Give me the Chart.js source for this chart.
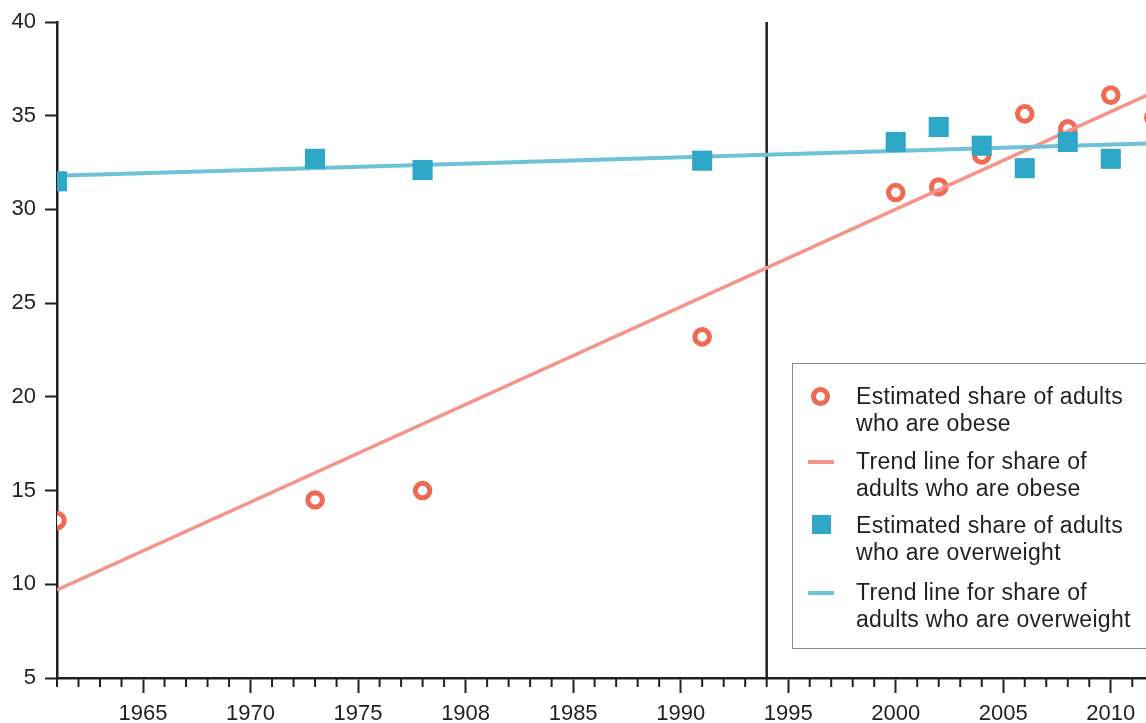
<!DOCTYPE html>
<html>
<head>
<meta charset="utf-8">
<script src="https://cdn.jsdelivr.net/npm/chart.js@4/dist/chart.umd.min.js"></script>
<style>
  html, body { margin: 0; padding: 0; background: #fff; overflow: hidden; }
  #wrap { position: relative; width: 1146px; height: 723px; overflow: hidden; }
  #c { position: absolute; left: 0; top: 0; }
  #legend { position: absolute; left: 792px; top: 363px; width: 400px; height: 286px;
    border: 1px solid #8a8a8a; box-sizing: border-box; font-family: "Liberation Sans", Arial, sans-serif;
    font-size: 23px; color: #231f20; letter-spacing: 0.3px; }
  .row { position: absolute; left: 63px; line-height: 27px; white-space: nowrap; }
  .mk { position: absolute; }
</style>
</head>
<body>
<div id="wrap">
  <canvas id="c" width="1211" height="723"></canvas>
  <div id="legend"></div>
</div>
<script>
// ---- data ----
const obeseYears = [1961, 1973, 1978, 1991, 2000, 2002, 2004, 2006, 2008, 2010, 2012];
const obeseShare = [13.4, 14.5, 15.0, 23.2, 30.9, 31.2, 32.9, 35.1, 34.3, 36.1, 34.9];
const overweightYears = [1961, 1973, 1978, 1991, 2000, 2002, 2004, 2006, 2008, 2010];
const overweightShare = [31.5, 32.7, 32.1, 32.6, 33.6, 34.4, 33.4, 32.2, 33.6, 32.7];
const trendYears = [1961, 2014];
const obeseTrend = [9.7, 37.3];
const overweightTrend = [31.8, 33.6];
const dividerYear = 1994;
const yRange = [5, 40];
const xTickYears = [1965, 1970, 1975, 1980, 1985, 1990, 1995, 2000, 2005, 2010];
const xTickLabels = ["1965", "1970", "1975", "1908", "1985", "1990", "1995", "2000", "2005", "2010"];
const legendLabels = [
  ["Estimated share of adults", "who are obese"],
  ["Trend line for share of", "adults who are obese"],
  ["Estimated share of adults", "who are overweight"],
  ["Trend line for share of", "adults who are overweight"]
];

const INK = '#231f20';
const C_OBESE = '#ef6a50';
const C_OBESE_T = '#f5958a';
const C_OVER = '#2fa8c8';
const C_OVER_T = '#6ec2d7';
const FONT = "'Liberation Sans', Arial, sans-serif";

const pts = (xs, ys) => xs.map((x, i) => ({ x, y: ys[i] }));
const leftClip = { left: 0, top: false, right: false, bottom: false };

const minorTicks = {
  id: 'minorTicks',
  afterDraw(chart) {
    const xs = chart.scales.x, ctx = chart.ctx;
    const y0 = chart.chartArea.bottom;
    ctx.save();
    ctx.strokeStyle = INK;
    ctx.lineWidth = 2;
    for (let v = Math.ceil(xs.min); v <= xs.max; v++) {
      if (xTickYears.includes(v)) continue;
      const px = xs.getPixelForValue(v);
      ctx.beginPath();
      ctx.moveTo(px, y0);
      ctx.lineTo(px, y0 + 9);
      ctx.stroke();
    }
    ctx.restore();
  }
};

new Chart(document.getElementById('c'), {
  type: 'scatter',
  data: {
    datasets: [
      { label: 'overweight', data: pts(overweightYears, overweightShare), pointStyle: 'rect',
        pointRadius: 14.2, pointHoverRadius: 14.2, backgroundColor: C_OVER, borderColor: C_OVER, borderWidth: 0, clip: leftClip },
      { label: 'overweight trend', data: pts(trendYears, overweightTrend), showLine: true, pointRadius: 0,
        borderColor: C_OVER_T, borderWidth: 4 },
      { label: 'obese trend', data: pts(trendYears, obeseTrend), showLine: true, pointRadius: 0,
        borderColor: C_OBESE_T, borderWidth: 3.5 },
      { label: 'obese', data: pts(obeseYears, obeseShare), pointStyle: 'circle',
        pointRadius: 7.3, pointHoverRadius: 7.3, backgroundColor: '#fff', borderColor: C_OBESE, borderWidth: 5, clip: leftClip },
      { label: 'divider', data: pts([dividerYear, dividerYear], yRange), showLine: true, pointRadius: 0,
        borderColor: INK, borderWidth: 2.5 }
    ]
  },
  options: {
    responsive: false,
    animation: false,
    events: [],
    layout: { padding: { top: 22, right: 0, bottom: 0, left: 0 } },
    plugins: { legend: { display: false }, tooltip: { enabled: false } },
    scales: {
      x: {
        type: 'linear', min: 1961, max: 2014,
        afterFit(s) { s.height = 45; },
        border: { display: true, color: INK, width: 2.5 },
        grid: { display: true, drawOnChartArea: false, drawTicks: true, tickLength: 15, tickWidth: 2,
          tickColor: c => xTickYears.includes(c.tick && c.tick.value) ? INK : 'rgba(0,0,0,0)' },
        ticks: {
          stepSize: 1, autoSkip: false, maxRotation: 0, padding: 10, color: INK,
          font: { family: FONT, size: 22, lineHeight: 1 },
          callback: v => { const i = xTickYears.indexOf(v); return i >= 0 ? xTickLabels[i] : ''; }
        }
      },
      y: {
        type: 'linear', min: yRange[0], max: yRange[1],
        afterFit(s) { s.width = 57; },
        border: { display: true, color: INK, width: 2.5 },
        grid: { display: true, drawOnChartArea: false, drawTicks: true, tickLength: 12, tickWidth: 2, tickColor: INK },
        ticks: { stepSize: 5, padding: 9, color: INK, font: { family: FONT, size: 22, lineHeight: 1 } }
      }
    }
  },
  plugins: [minorTicks]
});

// ---- legend (HTML overlay) ----
const lg = document.getElementById('legend');
const rowTops = [19, 84, 147.5, 215];
const markers = [
  `<div class="mk" style="left:${820-792-9.5-1}px;top:${396.5-363-9.5-1}px;width:9px;height:9px;border:5px solid ${C_OBESE};border-radius:50%;"></div>`,
  `<div class="mk" style="left:${808-792-1}px;top:${461.5-363-1.5-1}px;width:26px;height:3.5px;background:${C_OBESE_T};"></div>`,
  `<div class="mk" style="left:${811.5-792-1}px;top:${515-363-1}px;width:19px;height:19px;background:${C_OVER};"></div>`,
  `<div class="mk" style="left:${808-792-1}px;top:${592.5-363-2-1}px;width:26px;height:4px;background:${C_OVER_T};"></div>`
];
lg.innerHTML = legendLabels.map((lines, i) =>
  markers[i] + `<div class="row" style="top:${rowTops[i]}px">${lines.join('<br>')}</div>`
).join('');
</script>
</body>
</html>
